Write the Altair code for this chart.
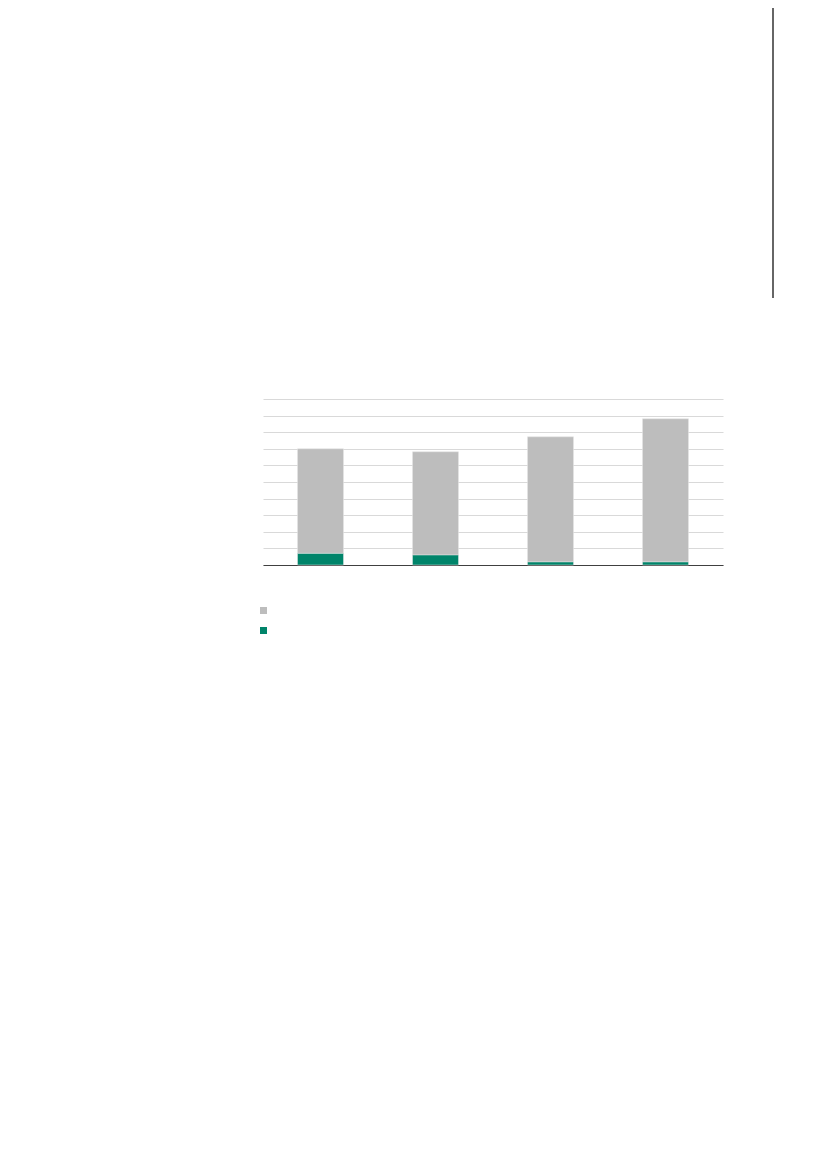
import altair as alt
import pandas as pd

categories = ["1", "2", "3", "4"]
series_names = ["Grey", "Green"]
grey_values = [6.3, 6.22, 7.54, 8.63]
green_values = [0.7, 0.6, 0.18, 0.18]
colors = ["#bdbdbd", "#00846a"]

rows = []
for c, g, gr in zip(categories, grey_values, green_values):
    rows.append({"cat": c, "series": series_names[0], "value": g, "ord": 1})
    rows.append({"cat": c, "series": series_names[1], "value": gr, "ord": 0})
df = pd.DataFrame(rows)

bars = alt.Chart(df).mark_bar(stroke="#e6e6e6", strokeWidth=0.5).encode(
    x=alt.X("cat:N", sort=categories, title=None,
            scale=alt.Scale(paddingInner=0.6, paddingOuter=0.3),
            axis=alt.Axis(labels=False, ticks=False, domain=True, domainColor="#404040",
                          domainWidth=1.2, grid=False)),
    y=alt.Y("value:Q", stack="zero", title=None,
            scale=alt.Scale(domain=[0, 10], nice=False),
            axis=alt.Axis(labels=False, ticks=False, domain=False, grid=True,
                          gridColor="#d9d9d9", gridWidth=1,
                          values=list(range(0, 11)))),
    color=alt.Color("series:N", scale=alt.Scale(domain=series_names, range=colors),
                    legend=alt.Legend(title=None, orient="none", legendX=-5, legendY=206,
                                      symbolType="square", symbolSize=49,
                                      symbolStrokeWidth=0, labelExpr="''",
                                      labelFontSize=11, rowPadding=8)),
    order=alt.Order("ord:Q"),
)

vline = alt.Chart(pd.DataFrame({"x": [0]})).mark_rule(color="#333333", strokeWidth=1.5).encode(
    x=alt.value(510), y=alt.value(-391), y2=alt.value(-101)
)

chart = alt.layer(bars, vline).properties(
    width=460, height=166,
    padding={"left": 255, "top": 391, "right": 80, "bottom": 100},
    autosize=alt.AutoSizeParams(type="none"),
    background="white",
).configure_view(strokeWidth=0, stroke="transparent")

chart.save("out.html", embed_options={"renderer": "svg", "actions": False})
